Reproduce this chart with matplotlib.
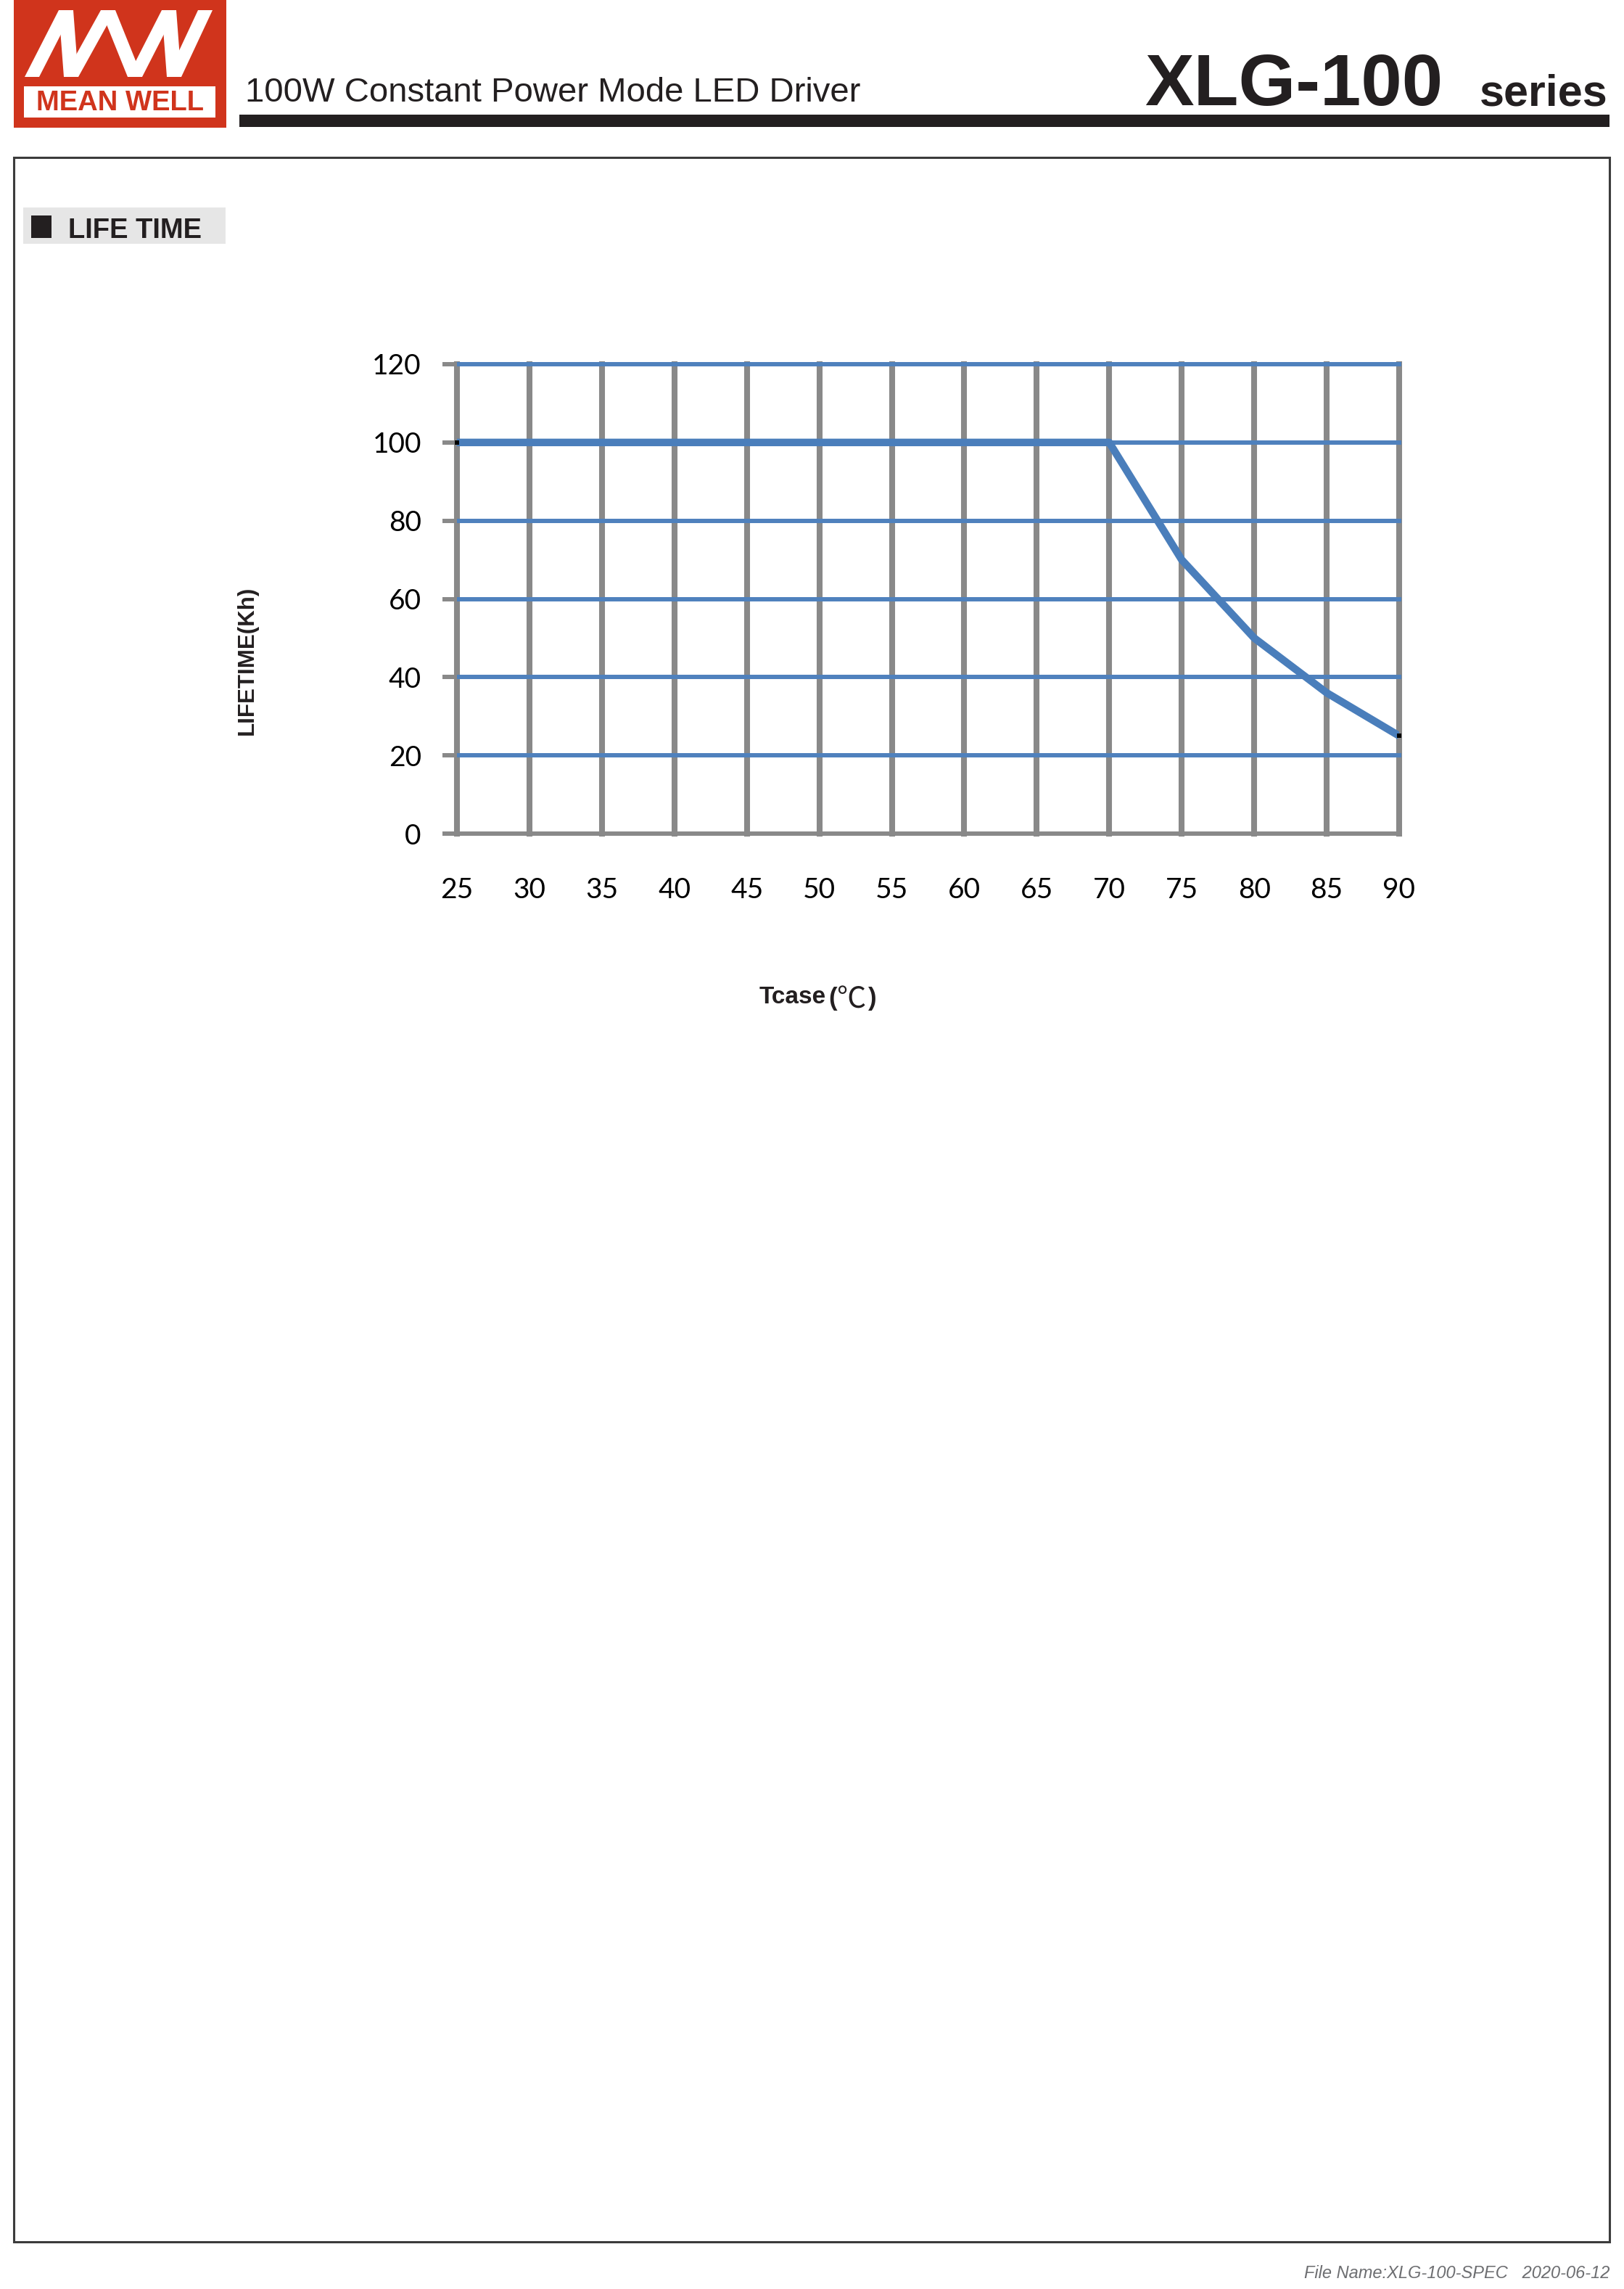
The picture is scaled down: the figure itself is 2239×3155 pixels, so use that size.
import numpy as np
import matplotlib.pyplot as plt
from matplotlib.patches import Rectangle, Polygon

# lifetime curve
tcase = [25, 70, 75, 80, 85, 90]
lifetime = [100, 100, 70, 50, 36, 25]
x_ticks = list(range(25, 95, 5))
y_ticks = list(range(0, 140, 20))

W, H = 2239, 3155
fig = plt.figure(figsize=(W / 100, H / 100), dpi=100)

def fx(x):
    return x / W

def fy(y):
    return 1 - y / H

def box(x0, y0, x1, y1, **kw):
    fig.add_artist(Rectangle((fx(x0), fy(y1)), (x1 - x0) / W, (y1 - y0) / H,
                             transform=fig.transFigure, **kw))

red = '#d0341c'
ink = '#231f20'
gray = '#898989'
blue = '#4f81bd'

# logo
box(19, 0, 312, 176, color=red, lw=0)
box(33, 119, 297, 162, color='white', lw=0)
fig.text(fx(165), fy(152), 'MEAN WELL', color=red, fontsize=27.5, weight='bold',
         family='Liberation Sans', ha='center', va='baseline')
knots = [(34, 106), (81, 14), (88, 106), (139, 14), (176, 106), (223, 14), (230, 106), (273, 14)]
sw = 20
for (x1, y1), (x2, y2) in zip(knots[:-1], knots[1:]):
    pts = [(fx(x1), fy(y1)), (fx(x1 + sw), fy(y1)), (fx(x2 + sw), fy(y2)), (fx(x2), fy(y2))]
    fig.add_artist(Polygon(pts, closed=True, color='white', lw=0, transform=fig.transFigure))

# header
fig.text(fx(338), fy(140), '100W Constant Power Mode LED Driver', color=ink, fontsize=34,
         family='Liberation Sans', ha='left', va='baseline')
fig.text(fx(1578), fy(145), 'XLG-100', color=ink, fontsize=73, weight='bold',
         family='Liberation Sans', ha='left', va='baseline')
fig.text(fx(2040), fy(145), 'series', color=ink, fontsize=44, weight='bold',
         family='Liberation Sans', ha='left', va='baseline')
box(330, 158, 2219, 175, color=ink, lw=0)

# page frame
box(19, 217, 2219, 3090, fill=False, ec='#3c3c3c', lw=2.2)

# section label
box(32, 286, 311, 336, color='#e6e6e6', lw=0)
box(43, 297, 71, 328, color=ink, lw=0)
fig.text(fx(94), fy(328), 'LIFE TIME', color=ink, fontsize=27.5, weight='bold',
         family='Liberation Sans', ha='left', va='baseline')

# chart
ax = fig.add_axes([fx(630), fy(1149), (1929 - 630) / W, (1149 - 502) / H])
ax.plot(tcase, lifetime, color='#4a7ebb', lw=7.5, solid_capstyle='butt', zorder=5)
ax.plot([tcase[0], tcase[-1]], [lifetime[0], lifetime[-1]], ls='none', marker='s',
        ms=4.5, color='black', mew=0, zorder=6, clip_on=False)
ax.set_xlim(25, 90)
ax.set_ylim(0, 120)
ax.set_xticks(x_ticks)
ax.set_yticks(y_ticks)
ax.grid(axis='x', color=gray, lw=5.8)
ax.grid(axis='y', color=blue, lw=4.3)
for ln in ax.get_xgridlines() + ax.get_ygridlines():
    ln.set_clip_on(False)
ax.get_ygridlines()[0].set_color(gray)
for s in ax.spines.values():
    s.set_visible(False)
ax.tick_params(axis='y', length=14.4, width=4.3, color=gray, pad=21,
               labelsize=28, labelfontfamily='Lato')
ax.tick_params(axis='x', length=0, pad=43, labelsize=28, labelfontfamily='Lato')
ax.set_axisbelow(True)

fig.text(fx(341), fy(910), 'LIFETIME(Kh)', color=ink, fontsize=22.5, weight='bold',
         family='Liberation Sans', rotation=90, ha='center', va='center')
fig.text(fx(1047), fy(1383), 'Tcase', color=ink, fontsize=24, weight='bold',
         family='Liberation Sans', ha='left', va='baseline')
fig.text(fx(1142), fy(1386), '(', color=ink, fontsize=25, weight='bold',
         family='Liberation Sans', ha='left', va='baseline')
fig.text(fx(1153), fy(1390), '℃', color=ink, fontsize=29, weight='light',
         family='Noto Sans CJK SC', ha='left', va='baseline')
fig.text(fx(1197), fy(1386), ')', color=ink, fontsize=25, weight='bold',
         family='Liberation Sans', ha='left', va='baseline')

# footer
fig.text(fx(2219), fy(3140), 'File Name:XLG-100-SPEC   2020-06-12', color='#6d6e71',
         fontsize=17, style='italic', family='Liberation Sans', ha='right', va='baseline')

fig.savefig('out.png', dpi=100)
